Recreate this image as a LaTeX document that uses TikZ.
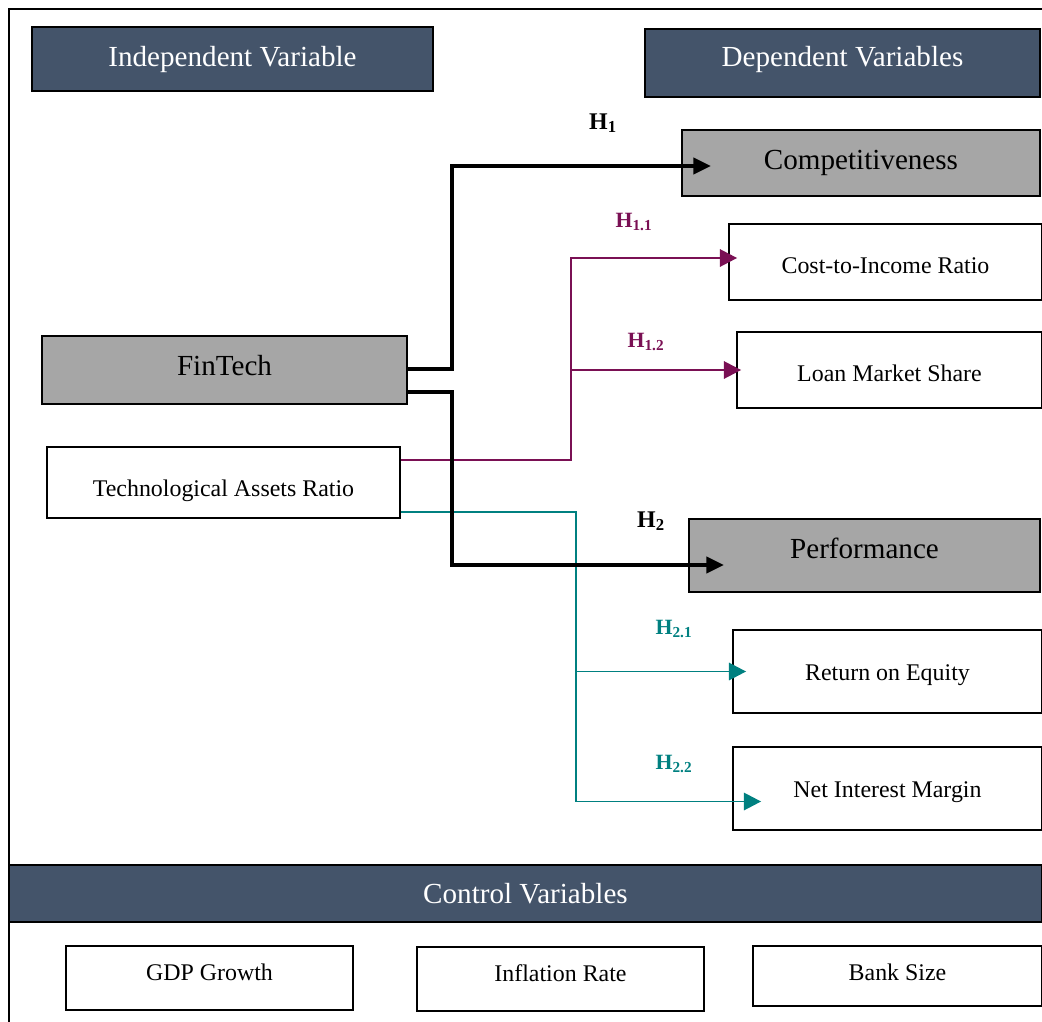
\documentclass[tikz,border=0pt]{standalone}
\usepackage{fontspec}
\setmainfont{Liberation Serif}
\usetikzlibrary{arrows.meta, calc}

\definecolor{slate}{HTML}{44546A}
\definecolor{boxgray}{HTML}{A6A6A6}
\definecolor{plum}{RGB}{122,16,84}
\definecolor{tealc}{RGB}{0,128,128}

\newcommand{\bigtxt}{\fontsize{20.7}{24}\selectfont}
\newcommand{\smalltxt}{\fontsize{17}{20}\selectfont}

\begin{document}
\begin{tikzpicture}[x=0.025cm, y=-0.025cm,
  header/.style={draw=black, line width=1.3pt, fill=slate, text=white, font=\bigtxt, inner sep=0},
  construct/.style={draw=black, line width=1.3pt, fill=boxgray, font=\bigtxt, inner sep=0},
  measure/.style={draw=black, line width=1.3pt, fill=white, font=\smalltxt, inner sep=0},
  tb/.style={text height=#1, text depth=0pt},
  mainpath/.style={line width=2.8pt, -{Triangle[length=0.44cm, width=0.4cm]}},
  subpath/.style={line width=1pt, -{Triangle[length=0.43cm, width=0.44cm]}},
  hyp/.style={font=\bfseries\fontsize{17}{20}\selectfont},
  subhyp/.style={font=\bfseries\fontsize{15.5}{18}\selectfont}
]
\useasboundingbox (0,0) rectangle (1042,1022);

% --- Frame ---
\draw[line width=1.4pt] (9,1022) -- (9,9) -- (1042,9);

% --- Headers ---
\node[header, minimum width=10.025cm, minimum height=1.6cm] (indep) at (232.5,59) {Independent Variable};
\node[header, tb=5.4pt, minimum width=9.875cm, minimum height=1.7cm] (dep) at (842.5,63) {Dependent Variables};

% --- Independent side ---
\node[construct, tb=8.4pt, minimum width=9.125cm, minimum height=1.7cm] (fin) at (224.5,370) {FinTech};
\node[measure, tb=19.3pt, minimum width=8.825cm, minimum height=1.775cm] (tar) at (223.5,482.5) {Technological Assets Ratio};

% --- Dependent side ---
\node[construct, minimum width=8.95cm, minimum height=1.65cm] (comp) at (861,163) {Competitiveness};
\node[measure, tb=17pt, minimum width=7.825cm, minimum height=1.9cm] (cir) at (885.5,262) {Cost-to-Income Ratio};
\node[measure, tb=15.8pt, minimum width=7.625cm, minimum height=1.9cm] (lms) at (889.5,370) {Loan Market Share};
\node[construct, tb=4.1pt, minimum width=8.775cm, minimum height=1.825cm] (perf) at (864.5,555.5) {Performance};
\node[measure, tb=12.2pt, minimum width=7.725cm, minimum height=2.075cm] (roe) at (887.5,671.5) {Return on Equity};
\node[measure, tb=12.2pt, minimum width=7.725cm, minimum height=2.075cm] (nim) at (887.5,788.5) {Net Interest Margin};

% --- Controls ---
\node[header, minimum width=25.825cm, minimum height=1.425cm] (ctrl) at (525.5,893.5) {Control Variables};
\node[measure, tb=3pt, minimum width=7.175cm, minimum height=1.6cm] (gdp) at (209.5,978) {GDP Growth};
\node[measure, tb=3pt, minimum width=7.175cm, minimum height=1.6cm] (infl) at (560.5,979) {Inflation Rate};
\node[measure, tb=5.9pt, minimum width=7.225cm, minimum height=1.5cm] (bank) at (897.5,976) {Bank Size};

% --- Sub-hypotheses (technological assets ratio) ---
\draw[subpath, plum] ($(tar.east)+(0,-22.5)$) -- ++(170,0) coordinate (pbend) |- ($(cir.west)+(9,-4)$);
\draw[subpath, plum] (pbend |- lms.west) -- ($(lms.west)+(5,0)$);
\draw[subpath, tealc] ($(tar.east)+(0,29.5)$) -- ++(175,0) coordinate (tbend) |- ($(nim.west)+(29,13)$);
\draw[subpath, tealc] (tbend |- roe.west) -- ($(roe.west)+(14,0)$);

% --- Main hypotheses ---
\draw[mainpath] ($(fin.east)+(0,-1)$) -- ++(44,0) |- ($(comp.west)+(30,3)$);
\draw[mainpath] ($(fin.east)+(0,22)$) -- ++(44,0) |- ($(perf.west)+(36,9.5)$);

% --- Labels ---
\node[hyp] (h1) at (603,123) {H\textsubscript{1}};
\node[hyp] (h2) at (651,521) {H\textsubscript{2}};
\node[subhyp, plum] (h11) at (634,222) {H\textsubscript{1.1}};
\node[subhyp, plum] (h12) at (646,342) {H\textsubscript{1.2}};
\node[subhyp, tealc] (h21) at (674,629) {H\textsubscript{2.1}};
\node[subhyp, tealc] (h22) at (674,764) {H\textsubscript{2.2}};

\end{tikzpicture}
\end{document}
